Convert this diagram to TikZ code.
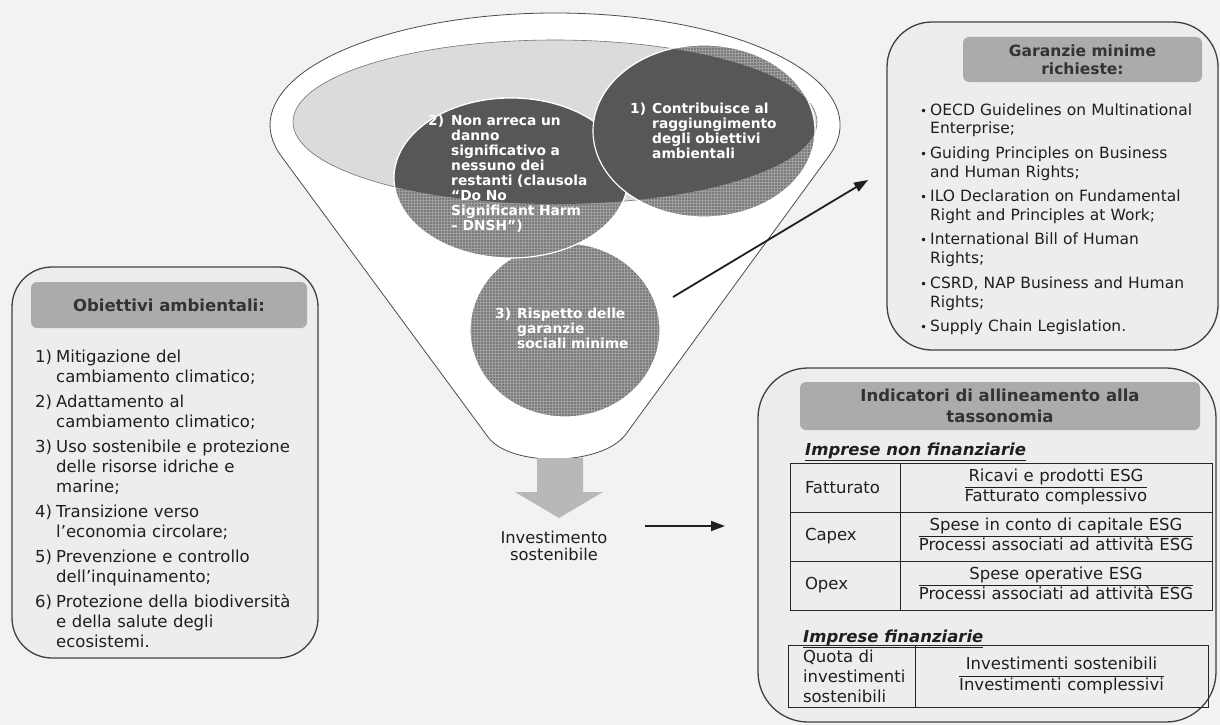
\documentclass[tikz,border=0pt]{standalone}
\usepackage{fontspec}
\setmainfont{DejaVu Sans}
\usetikzlibrary{arrows.meta,patterns}

% hanging label for a numbered item (items are separated by \par)
\newcommand\hangitem[2]{\hangindent=#1\hangafter=1\makebox[#1][l]{#2}}
% bullet set in the left margin
\newcommand\bulitem{\leavevmode\llap{\fontsize{12}{12}\selectfont\textbullet\hspace{3pt}}}
% stacked ratio with a rule between numerator and denominator
\setlength{\arrayrulewidth}{0.9pt}
\newcommand\frc[2]{\begin{tabular}{@{}c@{}}#1\\\hline #2\end{tabular}}

\begin{document}
\begin{tikzpicture}[x=1pt,y=-1pt,
  funnel/.style={fill=white, draw=black!70, line width=0.8pt},
  rimfill/.style={fill=black!14, draw=black!55, line width=0.6pt},
  lightdisc/.style={fill=black!52, postaction={pattern=grid, pattern color=black!38}},
  darkdisc/.style={fill=black!66},
  discedge/.style={draw=white, line width=1.2pt},
  ctext/.style={anchor=base west, inner sep=0pt, text width=#1, align=left,
    text=white, font=\bfseries\fontsize{13.8}{15}\selectfont},
  bigbox/.style={draw=black!75, line width=1.3pt, fill=black!7},
  hdr/.style={fill=black!33, rounded corners=6pt, align=center, text=black!80,
    inner sep=0pt},
  body/.style={anchor=base west, inner sep=0pt, text width=#1, align=left,
    text=black!88},
  cell/.style={draw=black!85, line width=1pt, inner ysep=0pt, text=black!88,
    font=\fontsize{16.5}{20}\selectfont},
  sec/.style={anchor=base west, inner sep=0pt, text=black!88,
    font=\bfseries\itshape\fontsize{16.5}{20}\selectfont},
  arr/.style={-{Triangle[length=14pt,width=10pt]}, line width=1.8pt, draw=black!88}
]
\useasboundingbox (0,0) rectangle (1220,725);
\fill[black!5] (0,0) rectangle (1220,725);

% ---------- funnel ----------
\draw[funnel] (281.4,156.3) -- (488,437)
  .. controls (510.6,467.6) and (602.4,466.3) .. (626,434) -- (829,155.9)
  arc[start angle=16, end angle=-196.2, x radius=285, y radius=112] -- cycle;
\coordinate (rim) at (555,122);
\path[rimfill] (rim) ellipse[x radius=262, y radius=82];

% ---------- the three criteria discs ----------
\coordinate (c1) at (704,131);
\coordinate (c2) at (511,178);
\coordinate (c3) at (565,330);
\foreach \c/\rx/\ry in {c3/95/87, c2/117/80, c1/111/86}{
  \path[lightdisc] (\c) ellipse[x radius=\rx, y radius=\ry];
  \path[discedge] (\c) ellipse[x radius=\rx, y radius=\ry];
}
\begin{scope}
  \clip (rim) ellipse[x radius=262, y radius=82];
  \foreach \c/\rx/\ry in {c3/95/87, c2/117/80, c1/111/86}{
    \path[darkdisc] (\c) ellipse[x radius=\rx, y radius=\ry];
    \path[discedge] (\c) ellipse[x radius=\rx, y radius=\ry];
  }
\end{scope}

\node[ctext=160pt] (t1) at (630,113)
  {\hangitem{22pt}{1)}Contribuisce al\newline raggiungimento\newline
   degli obiettivi\newline ambientali\par};
\node[ctext=215pt] (t2) at (428,125)
  {\hangitem{23pt}{2)}Non arreca un\newline danno\newline significativo a\newline
   nessuno dei\newline restanti (clausola\newline “Do No\newline
   Significant Harm\newline – DNSH”)\par};
\node[ctext=160pt] (t3) at (495,318)
  {\hangitem{22pt}{3)}Rispetto delle\newline garanzie\newline sociali minime\par};

% ---------- outcome ----------
\fill[black!28] (537,458) -- (583,458) -- (583,492) -- (603,492) -- (559,518)
  -- (515,492) -- (537,492) -- cycle;
\node[align=center, inner sep=0pt, text=black!88,
  font=\fontsize{16.3}{16.7}\selectfont] (inv) at (554,546)
  {Investimento\\sostenibile};

% ---------- environmental objectives ----------
\node[bigbox, rounded corners=40pt, minimum width=306pt, minimum height=391pt]
  (obj) at (165,462.5) {};
\node[hdr, minimum width=276pt, minimum height=46pt,
  font=\bfseries\fontsize{16.5}{20}\selectfont] (objh) at (169,305)
  {Obiettivi ambientali:};
\node[body=280pt, font=\fontsize{16.5}{20}\selectfont] (objl) at (35,362)
  {\setlength{\parskip}{5pt}%
   \hangitem{21pt}{1)}Mitigazione del\newline cambiamento climatico;\par
   \hangitem{21pt}{2)}Adattamento al\newline cambiamento climatico;\par
   \hangitem{21pt}{3)}Uso sostenibile e protezione\newline delle risorse idriche e\newline marine;\par
   \hangitem{21pt}{4)}Transizione verso\newline l’economia circolare;\par
   \hangitem{21pt}{5)}Prevenzione e controllo\newline dell’inquinamento;\par
   \hangitem{21pt}{6)}Protezione della biodiversità\newline e della salute degli\newline ecosistemi.\par};

% ---------- minimum safeguards ----------
\node[bigbox, rounded corners=45pt, minimum width=331pt, minimum height=328pt]
  (gar) at (1052.5,186) {};
\node[hdr, minimum width=239pt, minimum height=45pt,
  font=\bfseries\fontsize{15.5}{18}\selectfont] (garh) at (1082.5,59.5)
  {Garanzie minime\\richieste:};
\node[body=285pt, font=\fontsize{15.5}{18.8}\selectfont] (garl) at (930,115)
  {\setlength{\parskip}{5.7pt}%
   \bulitem OECD Guidelines on Multinational\newline Enterprise;\par
   \bulitem Guiding Principles on Business\newline and Human Rights;\par
   \bulitem ILO Declaration on Fundamental\newline Right and Principles at Work;\par
   \bulitem International Bill of Human\newline Rights;\par
   \bulitem CSRD, NAP Business and Human\newline Rights;\par
   \bulitem Supply Chain Legislation.\par};

% ---------- taxonomy alignment indicators ----------
\node[bigbox, rounded corners=50pt, minimum width=458pt, minimum height=354pt]
  (ind) at (987,545) {};
\node[hdr, minimum width=400pt, minimum height=48pt,
  font=\bfseries\fontsize{16.5}{20.5}\selectfont] (indh) at (1000,406)
  {Indicatori di allineamento alla\\tassonomia};

\node[sec] (nf) at (805,455) {\underline{Imprese non finanziarie}};
\node[cell, text width=80pt, inner xsep=15pt, minimum height=49pt, align=left]
  (fl) at (845,487.5) {Fatturato};
\node[cell, text width=300pt, inner xsep=6pt, minimum height=49pt, align=center]
  (fr) at (1056,487.5) {\frc{Ricavi e prodotti ESG}{Fatturato complessivo}};
\node[cell, text width=80pt, inner xsep=15pt, minimum height=49pt, align=left]
  (cl) at (845,536.5) {Capex};
\node[cell, text width=300pt, inner xsep=6pt, minimum height=49pt, align=center]
  (cr) at (1056,536.5) {\frc{Spese in conto di capitale ESG}{Processi associati ad attività ESG}};
\node[cell, text width=80pt, inner xsep=15pt, minimum height=49pt, align=left]
  (ol) at (845,585.5) {Opex};
\node[cell, text width=300pt, inner xsep=6pt, minimum height=49pt, align=center]
  (or) at (1056,585.5) {\frc{Spese operative ESG}{Processi associati ad attività ESG}};

\node[sec] (fi) at (803,642) {\underline{Imprese finanziarie}};
\node[cell, text width=97pt, inner xsep=15pt, minimum height=62pt, align=left]
  (ql) at (851.5,676) {Quota di\\investimenti\\sostenibili};
\node[cell, text width=281pt, inner xsep=6pt, minimum height=62pt, align=center]
  (qr) at (1061.5,676) {\frc{Investimenti sostenibili}{Investimenti complessivi}};

% ---------- connectors ----------
\coordinate (a1s) at (673,297);
\coordinate (a1e) at (868,180);
\draw[arr] (a1s) -- (a1e);
\coordinate (a2s) at (645,526);
\coordinate (a2e) at (725,526);
\draw[arr] (a2s) -- (a2e);
\end{tikzpicture}
\end{document}
